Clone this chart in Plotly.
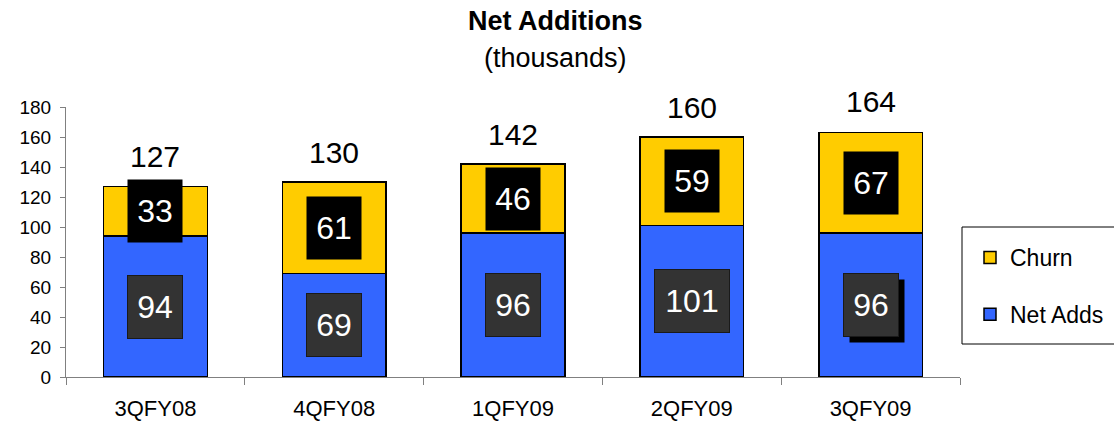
import plotly.graph_objects as go

categories = ["3QFY08", "4QFY08", "1QFY09", "2QFY09", "3QFY09"]
net_adds = [94, 69, 96, 101, 96]
churn = [33, 61, 46, 59, 67]
totals = [127, 130, 142, 160, 164]
y_ticks = [0, 20, 40, 60, 80, 100, 120, 140, 160, 180]

FONT = "Liberation Sans, Arial, sans-serif"
BLUE = "#3366FF"
YELLOW = "#FFCC00"

W, H = 1114, 422
ML, MR, MT, MB = 66, 154, 107, 45
plot_w = W - ML - MR
plot_h = H - MT - MB


def px_x(px):
    return (px - ML) / plot_w


def px_y(py):
    return (H - MB - py) / plot_h


fig = go.Figure()
fig.add_trace(go.Bar(
    x=categories, y=net_adds, name="Net Adds", width=0.58,
    marker=dict(color=BLUE, line=dict(color="black", width=1.5)),
    legendgroup="a", legendrank=2, hoverinfo="skip",
))
fig.add_trace(go.Bar(
    x=categories, y=churn, name="Churn", width=0.58,
    marker=dict(color=YELLOW, line=dict(color="black", width=1.5)),
    legendgroup="b", legendrank=1, hoverinfo="skip",
))

annotations = []
for i, cat in enumerate(categories):
    n = net_adds[i]
    c = churn[i]
    t = totals[i]
    nw = 54 if len(str(n)) < 3 else 74
    cw = 54 if len(str(c)) < 3 else 74
    if i == len(categories) - 1:
        annotations.append(dict(
            x=cat, y=n / 2, xref="x", yref="y", text=" ", showarrow=False,
            width=nw, height=62, bgcolor="black", xshift=6, yshift=-6,
            font=dict(size=32, family=FONT, color="white"), borderpad=0,
        ))
    annotations.append(dict(
        x=cat, y=n / 2, xref="x", yref="y", text=str(n), showarrow=False,
        width=nw, height=62, bgcolor="#333333", bordercolor="#1a1a1a",
        borderwidth=1, borderpad=0,
        font=dict(size=32, family=FONT, color="white"),
    ))
    annotations.append(dict(
        x=cat, y=n + c / 2, xref="x", yref="y", text=str(c), showarrow=False,
        width=cw, height=62, bgcolor="black", borderpad=0,
        font=dict(size=32, family=FONT, color="white"),
    ))
    annotations.append(dict(
        x=cat, y=t, xref="x", yref="y", text=str(t), showarrow=False,
        yanchor="middle", yshift=30,
        font=dict(size=30, family=FONT, color="black"),
    ))

annotations.append(dict(
    x=px_x(555), y=px_y(21), xref="paper", yref="paper", text="<b>Net Additions</b>",
    showarrow=False, yanchor="middle", font=dict(size=27, family=FONT, color="black"),
))
annotations.append(dict(
    x=px_x(555), y=px_y(58), xref="paper", yref="paper", text="(thousands)",
    showarrow=False, yanchor="middle", font=dict(size=27, family=FONT, color="black"),
))

fig.update_layout(
    width=W, height=H,
    margin=dict(l=ML, r=MR, t=MT, b=MB, pad=0, autoexpand=False),
    paper_bgcolor="white", plot_bgcolor="white",
    barmode="stack",
    font=dict(family=FONT, color="black"),
    showlegend=True,
    legend=dict(
        x=px_x(970), xanchor="left", y=px_y(236), yanchor="top",
        traceorder="grouped", tracegroupgap=24,
        font=dict(size=23, family=FONT, color="black"),
        bgcolor="rgba(0,0,0,0)", borderwidth=0,
    ),
    xaxis=dict(
        type="category", range=[-0.5, 4.5], showline=True, linecolor="#808080",
        linewidth=1, ticks="outside", tickson="boundaries", ticklen=7,
        tickcolor="#808080", showgrid=False, zeroline=False, automargin=False,
        tickfont=dict(size=22, family=FONT, color="black"),
        ticklabelstandoff=12, fixedrange=True,
    ),
    yaxis=dict(
        range=[0, 180], tickvals=y_ticks, showline=True, linecolor="#808080",
        linewidth=1, ticks="outside", ticklen=5, tickcolor="#808080",
        showgrid=False, zeroline=False, automargin=False,
        tickfont=dict(size=19, family=FONT, color="black"), fixedrange=True,
        ticklabelstandoff=5,
    ),
    annotations=annotations,
)

fig.add_shape(
    type="rect", xref="paper", yref="paper",
    x0=px_x(962), x1=px_x(1130), y0=px_y(344), y1=px_y(227),
    line=dict(color="black", width=1), fillcolor="white", layer="below",
)

fig.write_html("out.html")
